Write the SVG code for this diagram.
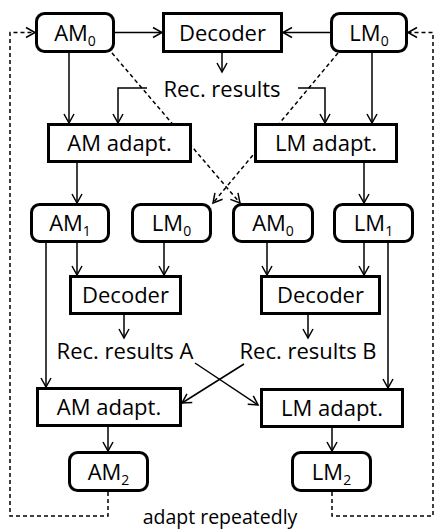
<svg xmlns="http://www.w3.org/2000/svg" width="435" height="529" viewBox="0 0 435 529">
<defs>
<marker id="arr" markerUnits="userSpaceOnUse" markerWidth="12" markerHeight="12" refX="9" refY="5" orient="auto" overflow="visible">
<path d="M0,0 L9,5 L0,10" fill="none" stroke="#000" stroke-width="1.5"/>
</marker>
</defs>
<style>
.box{fill:#fff;stroke:#000;stroke-width:3}
.c{fill:none;stroke:#000;stroke-width:1.5}
.d{fill:none;stroke:#000;stroke-width:1.5;stroke-dasharray:4,3}
text{font-family:"Open Sans","Liberation Sans",sans-serif;font-size:22px;text-anchor:middle;fill:#000}
.sub{font-size:14px}
.small{font-size:19.5px}
</style>
<rect width="435" height="529" fill="#fff"/>
<g id="connectors">
<path class="c" d="M115,32.5 H162" marker-end="url(#arr)"/>
<path class="c" d="M330,32.5 H283" marker-end="url(#arr)"/>
<path class="c" d="M222,53 V72" marker-end="url(#arr)"/>
<path class="c" d="M69,53 V123" marker-end="url(#arr)"/>
<path class="c" d="M372,53 V123" marker-end="url(#arr)"/>
<path class="c" d="M147,88 H118 V123" marker-end="url(#arr)"/>
<path class="c" d="M298,88 H325 V123" marker-end="url(#arr)"/>
<path class="d" d="M112,53 L240,203" marker-end="url(#arr)"/>
<path class="d" d="M338,53 L213,203" marker-end="url(#arr)"/>
<path class="c" d="M77,163 V203" marker-end="url(#arr)"/>
<path class="c" d="M364,163 V203" marker-end="url(#arr)"/>
<path class="c" d="M77,243 V275" marker-end="url(#arr)"/>
<path class="c" d="M164,243 V275" marker-end="url(#arr)"/>
<path class="c" d="M267,243 V275" marker-end="url(#arr)"/>
<path class="c" d="M364,243 V275" marker-end="url(#arr)"/>
<path class="c" d="M46,243 V387" marker-end="url(#arr)"/>
<path class="c" d="M388,243 V388" marker-end="url(#arr)"/>
<path class="c" d="M124,315 V338" marker-end="url(#arr)"/>
<path class="c" d="M308,315 V338" marker-end="url(#arr)"/>
<path class="c" d="M195,363 L258,405" marker-end="url(#arr)"/>
<path class="c" d="M244,364 L182,403" marker-end="url(#arr)"/>
<path class="c" d="M108,427 V451" marker-end="url(#arr)"/>
<path class="c" d="M332,428 V451" marker-end="url(#arr)"/>
<path class="d" d="M108,492 V516 H10 V32.5 H35" marker-end="url(#arr)"/>
<path class="d" d="M332,492 V516 H433 V32.5 H408" marker-end="url(#arr)"/>
</g>
<g id="am0-top"><rect class="box" x="36.5" y="13.5" width="77" height="38" rx="8"/><text x="75" y="41">AM<tspan class="sub" dy="5">0</tspan></text></g>
<g id="decoder-top"><rect class="box" x="163.5" y="13.5" width="118" height="38"/><text x="222.5" y="41">Decoder</text></g>
<g id="lm0-top"><rect class="box" x="331.5" y="13.5" width="75" height="38" rx="8"/><text x="369" y="41">LM<tspan class="sub" dy="5">0</tspan></text></g>
<g id="rec-results"><text x="222" y="97">Rec. results</text></g>
<g id="am-adapt-1"><rect class="box" x="48.5" y="124.5" width="142" height="37"/><text x="119.5" y="151">AM adapt.</text></g>
<g id="lm-adapt-1"><rect class="box" x="255.5" y="124.5" width="141" height="37"/><text x="326" y="151">LM adapt.</text></g>
<g id="am1"><rect class="box" x="31.5" y="204.5" width="77" height="37" rx="8"/><text x="70" y="231">AM<tspan class="sub" dy="5">1</tspan></text></g>
<g id="lm0-mid"><rect class="box" x="132.5" y="204.5" width="78" height="37" rx="8"/><text x="171.5" y="231">LM<tspan class="sub" dy="5">0</tspan></text></g>
<g id="am0-mid"><rect class="box" x="233.5" y="204.5" width="79" height="37" rx="8"/><text x="273" y="231">AM<tspan class="sub" dy="5">0</tspan></text></g>
<g id="lm1"><rect class="box" x="334.5" y="204.5" width="78" height="37" rx="8"/><text x="373.5" y="231">LM<tspan class="sub" dy="5">1</tspan></text></g>
<g id="decoder-a"><rect class="box" x="70.5" y="276.5" width="110" height="37"/><text x="125.5" y="303">Decoder</text></g>
<g id="decoder-b"><rect class="box" x="261.5" y="276.5" width="118" height="37"/><text x="320.5" y="303">Decoder</text></g>
<g id="rec-a"><text x="125" y="359">Rec. results A</text></g>
<g id="rec-b"><text x="308" y="359">Rec. results B</text></g>
<g id="am-adapt-2"><rect class="box" x="37.5" y="388.5" width="143" height="37"/><text x="109" y="415">AM adapt.</text></g>
<g id="lm-adapt-2"><rect class="box" x="261.5" y="389.5" width="141" height="37"/><text x="332" y="416">LM adapt.</text></g>
<g id="am2"><rect class="box" x="69.5" y="452.5" width="78" height="38" rx="8"/><text x="108.5" y="480">AM<tspan class="sub" dy="5">2</tspan></text></g>
<g id="lm2"><rect class="box" x="292.5" y="452.5" width="78" height="38" rx="8"/><text x="331.5" y="480">LM<tspan class="sub" dy="5">2</tspan></text></g>
<g id="loop-label"><text class="small" x="220" y="524">adapt repeatedly</text></g>
</svg>
